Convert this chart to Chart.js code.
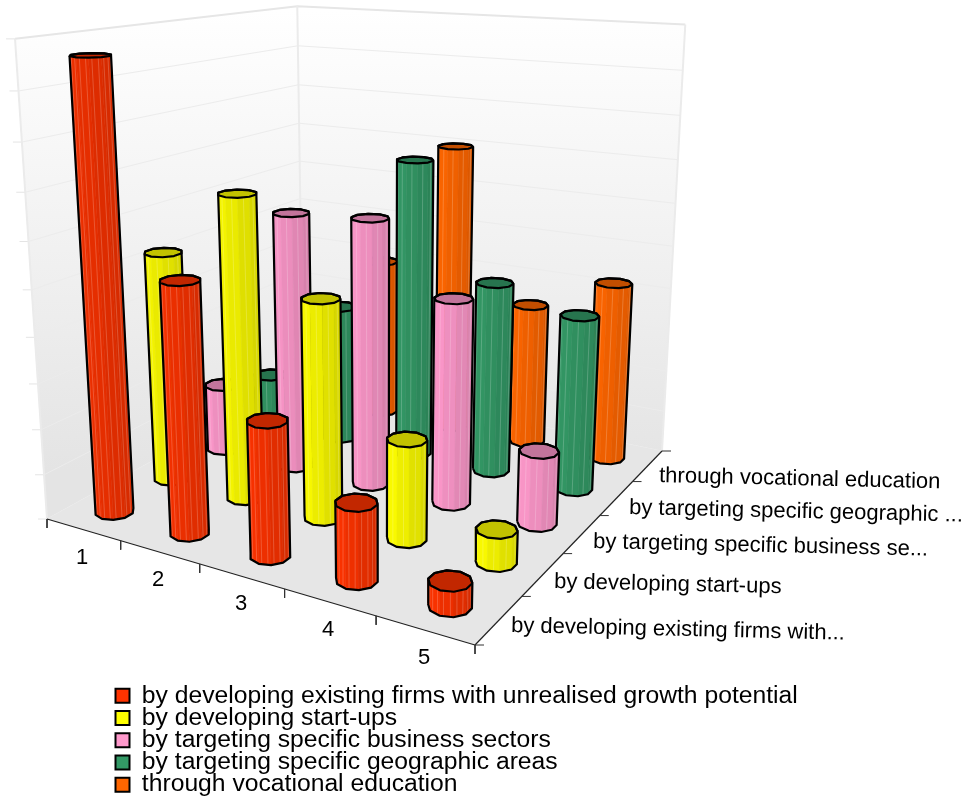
<!DOCTYPE html>
<html>
<head>
<meta charset="utf-8">
<title>3D cylinder chart</title>
<script src="https://cdn.jsdelivr.net/npm/chart.js@4"></script>
<style>
  html, body { margin: 0; padding: 0; background: #fff; }
  canvas { display: block; }
</style>
</head>
<body>
<canvas id="chart-cylinders" width="965" height="798"></canvas>
<script>
const categories = ['1', '2', '3', '4', '5'];
const seriesNames = [
    'by developing existing firms with unrealised growth potential',
    'by developing start-ups',
    'by targeting specific business sectors',
    'by targeting specific geographic areas',
    'through vocational education',
];
const depthLabels = [
    'by developing existing firms with...',
    'by developing start-ups',
    'by targeting specific business se...',
    'by targeting specific geographic ...',
    'through vocational education',
];
const seriesColors = ['#ff3300', '#ffff00', '#ff99cc', '#339966', '#ff6600'];

const existingFirms = [9.65, 5.38, 2.85, 1.6, 0.51];
const startUps = [5.24, 6.75, 4.8, 2.17, 0.7];
const businessSectors = [1.59, 5.95, 6.07, 4.59, 1.62];
const geographicAreas = [1.21, 3.28, 7.0, 4.44, 4.0];
const vocationalEducation = [1.5, 3.93, 7.0, 3.41, 4.23];
const seriesValues = [existingFirms, startUps, businessSectors, geographicAreas, vocationalEducation];

const valueTicks = [0, 1, 2, 3, 4, 5, 6, 7, 8, 9, 10];
const maxValue = 10;

// floor corners and the point the verticals converge on, in canvas units
const A = { x: 47, y: 519 };
const B = { x: 475, y: 645 };
const C = { x: 662, y: 451 };
const D = { x: 303, y: 378 };
const VERT = { x: 383, y: 5564 };
const RADIUS = 0.041;
const SIDES = 10;

// weights of the floor homography
const det = (C.x - B.x) * (C.y - D.y) - (C.x - D.x) * (C.y - B.y);
const wB = ((C.x - A.x) * (C.y - D.y) - (C.x - D.x) * (C.y - A.y)) / det;
const wD = ((C.x - B.x) * (C.y - A.y) - (C.x - A.x) * (C.y - B.y)) / det;

// u runs along the category axis, v along the depth axis, both 0..1, h is the value
function project(u, v, h) {
    const k = 0.00869 - 0.00013 * v;
    const nx = A.x + u * (wB * B.x - A.x) + v * (wD * D.x - A.x);
    const ny = A.y + u * (wB * B.y - A.y) + v * (wD * D.y - A.y);
    const w = 1 + u * (wB - 1) + v * (wD - 1);
    const q = w - h * k;
    return { x: (nx - h * k * VERT.x) / q, y: (ny - h * k * VERT.y) / q };
}

function shade(hex, f) {
    const n = parseInt(hex.slice(1), 16);
    const ch = s => Math.round(((n >> s) & 255) * f);
    return `rgb(${ch(16)},${ch(8)},${ch(0)})`;
}

function convexHull(pts) {
    const p = [...pts].sort((a, b) => a.x - b.x || a.y - b.y);
    const cross = (o, a, b) => (a.x - o.x) * (b.y - o.y) - (a.y - o.y) * (b.x - o.x);
    const half = list => {
        const out = [];
        for (const q of list) {
            while (out.length > 1 && cross(out[out.length - 2], out[out.length - 1], q) <= 0) out.pop();
            out.push(q);
        }
        out.pop();
        return out;
    };
    return [...half(p), ...half([...p].reverse())];
}

const canvas = document.getElementById('chart-cylinders');
const ctx = canvas.getContext('2d');

const layers = [];
function closed(pts) { return [...pts, pts[0]]; }
function addShape(pts, fill, border, width) {
    layers.push({
        data: closed(pts),
        showLine: true,
        pointRadius: 0,
        fill: fill ? 'shape' : false,
        backgroundColor: fill || 'transparent',
        borderColor: border || fill,
        borderWidth: width === undefined ? 1 : width,
        borderJoinStyle: 'round',
        tension: 0,
    });
}
function addLine(pts, color, width) {
    layers.push({
        data: pts,
        showLine: true,
        pointRadius: 0,
        fill: false,
        borderColor: color,
        borderWidth: width,
        borderCapStyle: 'butt',
        tension: 0,
    });
}

// walls and floor
const wallFill = ctx.createLinearGradient(0, 10, 0, 470);
wallFill.addColorStop(0, '#ffffff');
wallFill.addColorStop(1, '#e4e4e4');
const GRID = '#ececec';
addShape([project(0, 0, 0), project(0, 0, maxValue), project(0, 1, maxValue), project(0, 1, 0)], wallFill, wallFill, 0);
addShape([project(0, 1, 0), project(0, 1, maxValue), project(1, 1, maxValue), project(1, 1, 0)], wallFill, wallFill, 0);
for (const t of valueTicks) {
    const edge = t === maxValue;
    addLine([project(0, 0, t), project(0, 1, t), project(1, 1, t)], edge ? '#e6e6e6' : GRID, edge ? 2 : 1);
    const p = project(0, 0, t);
    addLine([{ x: p.x - 9, y: p.y }, p], '#e4e4e4', 1);
}
addLine([project(0, 0, 0), project(0, 0, maxValue)], '#ebebeb', 2);
addLine([project(0, 1, 0), project(0, 1, maxValue)], '#ebebeb', 2);
addLine([project(1, 1, 0), project(1, 1, maxValue)], '#ebebeb', 2);
addShape([project(0, 0, 0), project(1, 0, 0), project(1, 1, 0), project(0, 1, 0)], '#e6e6e6', '#e6e6e6', 0);

// axis lines with their ticks
addLine([project(0, 0, 0), project(1, 0, 0)], '#222', 1.2);
addLine([project(1, 0, 0), project(1, 1, 0)], '#222', 1.2);
for (let i = 0; i <= categories.length; i++) {
    const p = project(i / categories.length, 0, 0);
    addLine([p, { x: p.x, y: p.y + 9 }], '#333', 1);
}
for (let j = 0; j <= seriesNames.length; j++) {
    const p = project(1, j / seriesNames.length, 0);
    addLine([p, { x: p.x + 9, y: p.y }], '#333', 1);
}

function addCylinder(i, j) {
    const u = (i + 0.5) / categories.length;
    const v = (j + 0.5) / seriesNames.length;
    const value = seriesValues[j][i];
    const color = seriesColors[j];
    const base = [];
    const top = [];
    for (let k = 0; k < SIDES; k++) {
        const a = (k + 0.5) * 2 * Math.PI / SIDES;
        const du = RADIUS * Math.cos(a);
        const dv = RADIUS * Math.sin(a);
        base.push(project(u + du, v + dv, 0));
        top.push(project(u + du, v + dv, value));
    }
    const hull = convexHull([...base, ...top]);
    const xs = hull.map(p => p.x);
    const minX = Math.min(...xs);
    const span = Math.max(...xs) - minX;

    // side facets facing the viewer, lighter on the left
    const stripes = [];
    const perFacet = j === 0 ? 2 : 1;
    for (let k = 0; k < SIDES; k++) {
        const n = (k + 1) % SIDES;
        const ab = { x: base[n].x - base[k].x, y: base[n].y - base[k].y };
        const at = { x: top[k].x - base[k].x, y: top[k].y - base[k].y };
        if (ab.x * at.y - ab.y * at.x >= 0) continue;
        const mid = ((base[k].x + base[n].x) / 2 - minX) / span;
        addShape([base[k], base[n], top[n], top[k]], shade(color, 1 - 0.17 * mid), null, 0.6);
        for (let s = 0; s < perFacet; s++) {
            const f = (s + 0.5) / perFacet;
            stripes.push({ x: base[k].x + (base[n].x - base[k].x) * f, y: base[k].y + (base[n].y - base[k].y) * f });
            stripes.push({ x: top[k].x + (top[n].x - top[k].x) * f, y: top[k].y + (top[n].y - top[k].y) * f });
            stripes.push({ x: NaN, y: NaN });
        }
    }
    addLine(stripes, 'rgba(255,255,255,0.2)', 1);
    addShape(top, shade(color, 0.76), '#000', 2.2);
    addShape(hull, null, '#000', 2.2);
}

// painter's order: whatever stands further back on the floor goes first
const bars = [];
seriesValues.forEach((vals, j) => vals.forEach((_, i) => {
    bars.push({ i, j, depth: project((i + 0.5) / categories.length, (j + 0.5) / seriesNames.length, 0).y });
}));
bars.sort((a, b) => a.depth - b.depth).forEach(b => addCylinder(b.i, b.j));
layers.forEach((ds, idx) => { ds.order = layers.length - idx; });

const categoryLabelPos = [[82, 558], [158, 580], [241, 604], [328, 630], [424, 658]];
const depthLabelPos = [[511, 632], [554, 588], [593, 548], [629, 514], [659, 482]];

const axisText = {
    id: 'axisText',
    afterDatasetsDraw(chart) {
        const c = chart.ctx;
        c.save();
        c.fillStyle = '#000';
        c.font = '22px "Liberation Sans"';
        c.textAlign = 'center';
        c.textBaseline = 'middle';
        categories.forEach((t, i) => c.fillText(t, categoryLabelPos[i][0], categoryLabelPos[i][1]));
        c.textAlign = 'left';
        c.textBaseline = 'alphabetic';
        depthLabels.forEach((t, j) => {
            c.save();
            c.translate(depthLabelPos[j][0], depthLabelPos[j][1]);
            c.rotate(1.3 * Math.PI / 180);
            c.fillText(t, 0, 0);
            c.restore();
        });
        c.restore();
    },
};

// the legend sits below the plot, so it gets placed by hand once layout is done.
// its negative padding pushes items past its own clip box, so draw it unclipped
const legendPlacement = {
    id: 'legendPlacement',
    afterLayout(chart) {
        const lg = chart.legend;
        lg.left = 118;
        lg.right = 900;
        lg.top = 686;
        lg.bottom = 798;
        lg.draw = function () { this._draw(); };
    },
};

new Chart(ctx, {
    type: 'scatter',
    data: { datasets: layers },
    plugins: [axisText, legendPlacement],
    options: {
        responsive: false,
        animation: false,
        events: [],
        layout: { padding: 0 },
        scales: {
            x: { type: 'linear', min: 0, max: 965, display: false },
            y: { type: 'linear', min: 0, max: 798, reverse: true, display: false },
        },
        plugins: {
            tooltip: { enabled: false },
            legend: {
                position: 'chartArea',
                align: 'start',
                labels: {
                    boxWidth: 14,
                    boxHeight: 14,
                    padding: -2.5,
                    color: '#000',
                    font: { family: '"Liberation Sans"', size: 24.7, lineHeight: 1 },
                    generateLabels: () => seriesNames.map((name, j) => ({
                        text: name,
                        fillStyle: seriesColors[j],
                        strokeStyle: '#000',
                        lineWidth: 2,
                        hidden: false,
                    })),
                },
            },
        },
    },
});
</script>
</body>
</html>
